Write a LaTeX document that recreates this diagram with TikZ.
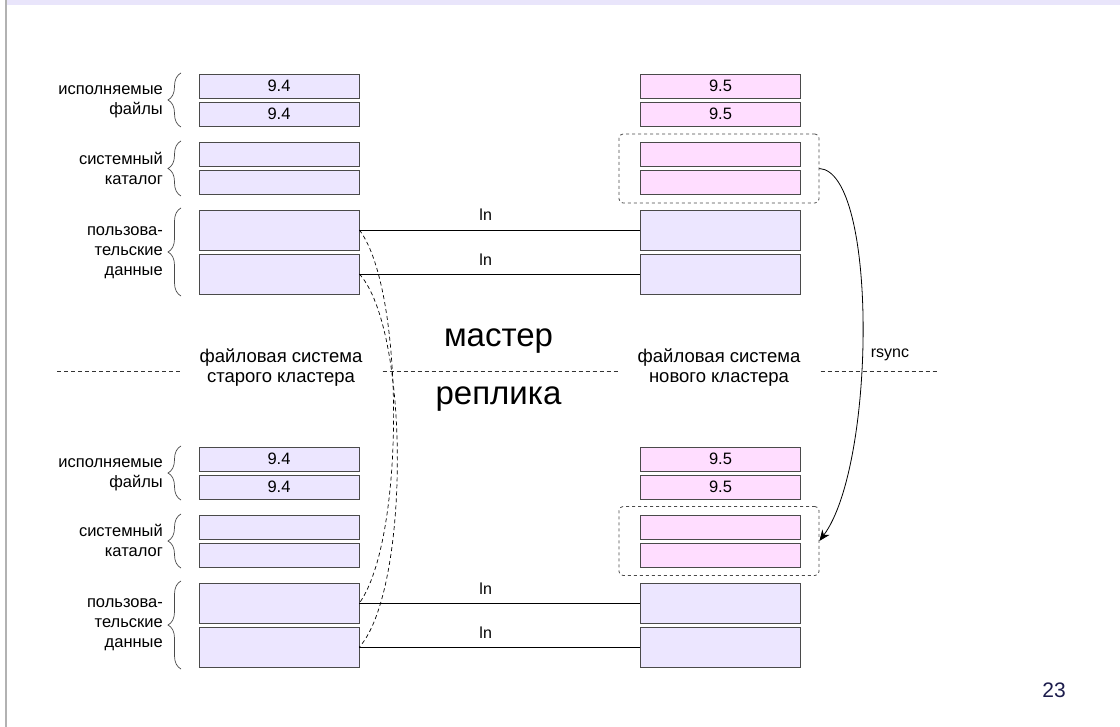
\documentclass[tikz,border=0pt]{standalone}
\usepackage{fontspec}
\setmainfont{Liberation Sans}
\usetikzlibrary{decorations.pathreplacing,arrows.meta}
\definecolor{lav}{HTML}{ECE6FF}
\definecolor{pinkb}{HTML}{FFDDFF}
\definecolor{edgec}{HTML}{4A4A4A}
\definecolor{barc}{HTML}{E9E5FB}
\definecolor{navy}{HTML}{1C1C4C}
\begin{document}
\begin{tikzpicture}[x=1pt,y=-1pt,
  blk/.style={draw=edgec, line width=0.8pt, minimum width=160pt, inner sep=0pt, font=\fontsize{16.5}{18}\selectfont},
  sm/.style={blk, minimum height=24pt},
  bg/.style={blk, minimum height=40pt},
  oldf/.style={fill=lav},
  newf/.style={fill=pinkb},
  lbl/.style={anchor=east, align=right, inner sep=0pt, font=\fontsize{16.5}{20}\selectfont},
  brc/.style={draw=edgec, line width=0.7pt, decorate, decoration={brace, amplitude=13pt}},
  dbox/.style={draw=edgec, dashed, line width=0.8pt, rounded corners=4pt, minimum width=200pt, minimum height=69pt, inner sep=0pt},
  lnline/.style={draw=black, line width=0.7pt},
  lntext/.style={font=\fontsize{16}{18}\selectfont, inner sep=0pt},
  dcurve/.style={draw=black, line width=0.7pt, dash pattern=on 4pt off 3pt},
  sep/.style={draw=black!80, line width=0.7pt, dash pattern=on 4pt off 3pt},
  fslbl/.style={align=center, inner xsep=20pt, inner ysep=0pt, font=\fontsize{18.5}{20}\selectfont},
  big/.style={font=\fontsize{33}{36}\selectfont, inner sep=0pt}
]
\useasboundingbox (0,0) rectangle (1120,727);
% slide frame
\fill[barc] (7,0) rectangle (1120,5);
\draw[black!30, line width=1.5pt] (6,0) -- (6,727);

% ---------- master ----------
\node[sm, oldf] (le1) at (279,86) {9.4};
\node[sm, oldf] (le2) at (279,114) {9.4};
\node[sm, oldf] (lc1) at (279,154.5) {};
\node[sm, oldf] (lc2) at (279,182.5) {};
\node[bg, oldf] (lu1) at (279,230) {};
\node[bg, oldf] (lu2) at (279,274) {};

\node[sm, newf] (re1) at (720.5,86) {9.5};
\node[sm, newf] (re2) at (720.5,114) {9.5};
\node[sm, newf] (rc1) at (720.5,154.5) {};
\node[sm, newf] (rc2) at (720.5,182.5) {};
\node[bg, oldf] (ru1) at (720.5,230) {};
\node[bg, oldf] (ru2) at (720.5,274) {};
\node[dbox] (dbt) at (719,168.5) {};

\draw[brc] (181,127) -- (181,73);
\draw[brc] (181,196) -- (181,141);
\draw[brc] (181,296) -- (181,208);
\node[lbl] (t1) at (163,102) {исполняемые\\файлы};
\node[lbl] (t2) at (163,168.5) {системный\\каталог};
\node[lbl] (t3) at (163,253) {пользова-\\тельские\\данные};

\draw[lnline] (lu1.east) -- node[lntext, pos=0.45, yshift=15pt] (ln1) {ln} (ru1.west);
\draw[lnline] (lu2.east) -- node[lntext, pos=0.45, yshift=14pt] (ln2) {ln} (ru2.west);

% ---------- replica ----------
\node[sm, oldf] (be1) at (279,459) {9.4};
\node[sm, oldf] (be2) at (279,487) {9.4};
\node[sm, oldf] (bc1) at (279,527) {};
\node[sm, oldf] (bc2) at (279,555) {};
\node[bg, oldf] (bu1) at (279,603) {};
\node[bg, oldf] (bu2) at (279,647) {};

\node[sm, newf] (se1) at (720.5,459) {9.5};
\node[sm, newf] (se2) at (720.5,487) {9.5};
\node[sm, newf] (sc1) at (720.5,527) {};
\node[sm, newf] (sc2) at (720.5,555) {};
\node[bg, oldf] (su1) at (720.5,603) {};
\node[bg, oldf] (su2) at (720.5,647) {};
\node[dbox] (dbb) at (719,541) {};

\draw[brc] (181,500) -- (181,446);
\draw[brc] (181,568) -- (181,514);
\draw[brc] (181,669) -- (181,581);
\node[lbl] (t4) at (163,475) {исполняемые\\файлы};
\node[lbl] (t5) at (163,540) {системный\\каталог};
\node[lbl] (t6) at (163,625) {пользова-\\тельские\\данные};

\draw[lnline] (bu1.east) -- node[lntext, pos=0.45, yshift=14pt] (ln3) {ln} (su1.west);
\draw[lnline] (bu2.east) -- node[lntext, pos=0.45, yshift=14pt] (ln4) {ln} (su2.west);

% ---------- separator ----------
\node[fslbl] (fsold) at (281,368) {файловая система\\старого кластера};
\node[fslbl] (fsnew) at (719,368) {файловая система\\нового кластера};
\coordinate (sl) at (57,371);
\coordinate (sr) at (938,371);
\draw[sep] (sl) -- (sl -| fsold.west);
\draw[sep] (sl -| fsold.east) -- (sl -| fsnew.west);
\draw[sep] (sl -| fsnew.east) -- (sr);
\node[big] (master) at (498.5,341) {мастер};
\node[big] (replica) at (498.5,399) {реплика};

% ---------- links ----------
\draw[dcurve] (lu1.east) .. controls (405,290) and (405,540) .. (bu1.east);
\draw[dcurve] (lu2.east) .. controls (410,330) and (410,590) .. (bu2.east);
\draw[line width=0.8pt, -{Stealth[length=11pt,width=9pt]}] (dbt.east) .. controls (878,172) and (876,465) .. (dbb.east);
\node[font=\fontsize{16}{18}\selectfont, inner sep=0pt] (rs) at (890,355) {rsync};

\node[font=\fontsize{21}{22}\selectfont, text=navy, inner sep=0pt] (pg) at (1054,690) {23};
\end{tikzpicture}
\end{document}
